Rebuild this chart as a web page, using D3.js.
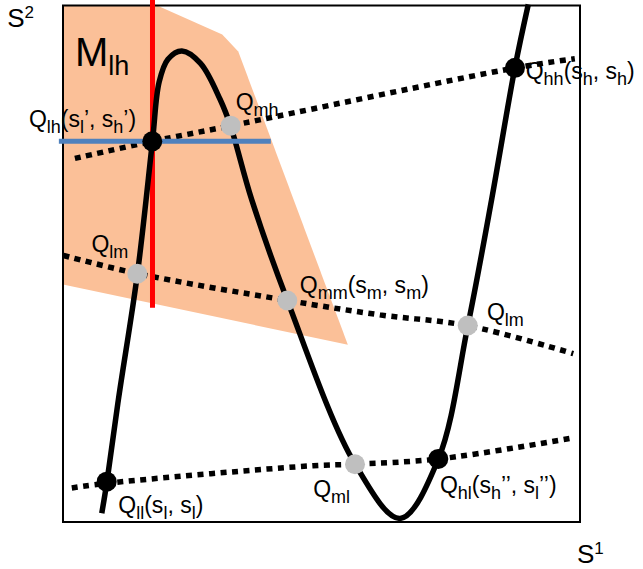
<!DOCTYPE html>
<html>
<head>
<meta charset="utf-8">
<script src="https://cdn.jsdelivr.net/npm/d3@7"></script>
<style>
  html, body { margin: 0; padding: 0; background: #fff; }
  svg { display: block; }
  text { font-family: "Liberation Sans", Arial, sans-serif; fill: #000; }
</style>
</head>
<body>
<svg id="chart" width="643" height="569"></svg>
<script>
// ---- data (in S1 / S2 units, 0..100) ----
const regionMlh = [[0,100],[18.2,100],[30.8,94.4],[33.9,91.1],[55.1,34.3],[0,46.0]];

const curveS = [
  [7.5,1.7],[8.5,7.8],[10.7,23.6],[14.4,48.1],[17.3,73.7],[18.6,85.2],[20.3,89.6],
  [23.0,91.2],[26.6,88.8],[30.4,81.8],[32.4,76.7],[36.5,62.4],[43.4,42.9],
  [56.5,11.2],[65.2,0.7],[72.6,12.2],[78.3,38.0],[82.9,62.4],[87.4,87.9],[90.0,100.2]
];

const lineHigh = [[2.3,70.4],[17.3,73.7],[32.4,76.7],[87.4,87.9],[99.0,89.7]];
const lineMid  = [[0.1,51.6],[14.4,48.1],[43.4,42.9],[61.3,40.1],[78.3,38.0],[98.7,32.6]];
const lineLow  = [[1.7,6.6],[8.5,7.5],[48.4,10.9],[56.5,11.2],[72.6,12.2],[98.8,16.3]];

const pointNames = ["Qll","Qlm","Qlh","Qmh","Qmm","Qml","Qhl","Qlm2","Qhh"];
const pointX = [8.45,14.37,17.27,32.44,43.38,56.48,72.59,78.28,87.43];
const pointY = [7.81,48.06,73.70,76.74,42.89,11.18,12.21,38.04,87.93];
const pointKind = ["eq","mix","eq","mix","mix","mix","eq","mix","eq"];

const redLine  = { x: 17.31, y0: 101.2, y1: 41.5 };
const blueLine = { y: 73.70, x0: -0.8, x1: 40.2 };

// labels: parts [text, isSubscript]
const labels = [
  { x: -6.6, y: 76.5, parts: [["Q",0],["lh",1],["(s",0],["l",1],["’, s",0],["h",1],["’)",0]] },
  { x: 33.4, y: 79.8, parts: [["Q",0],["mh",1]] },
  { x: 89.5, y: 85.7, parts: [["Q",0],["hh",1],["(s",0],["h",1],[", s",0],["h",1],[")",0]] },
  { x: 5.5,  y: 52.3, parts: [["Q",0],["lm",1]] },
  { x: 45.8, y: 44.4, parts: [["Q",0],["mm",1],["(s",0],["m",1],[", s",0],["m",1],[")",0]] },
  { x: 82.0, y: 39.2, parts: [["Q",0],["lm",1]] },
  { x: 48.4, y: 4.8,  parts: [["Q",0],["ml",1]] },
  { x: 72.9, y: 5.6,  parts: [["Q",0],["hl",1],["(s",0],["h",1],["’’, s",0],["l",1],["’’)",0]] },
  { x: 10.7, y: 1.7,  parts: [["Q",0],["ll",1],["(s",0],["l",1],[", s",0],["l",1],[")",0]] }
];
const axisLabels = [
  { x: -10.8, y: 95.9, base: "S", sup: "2" },
  { x: 99.4,  y: -8.0, base: "S", sup: "1" }
];
const regionLabel = { x: 2.3, y: 88.2, base: "M", sub: "lh" };

// ---- drawing ----
const svg = d3.select("#chart");
const xs = d3.scaleLinear().domain([0,100]).range([63,580]);
const ys = d3.scaleLinear().domain([0,100]).range([522,5.5]);

const poly = d3.line().x(d => xs(d[0])).y(d => ys(d[1]));
const smooth = d3.line().x(d => xs(d[0])).y(d => ys(d[1])).curve(d3.curveCatmullRom.alpha(0.5));

svg.append("path").attr("d", poly(regionMlh) + "Z").attr("fill", "#FBC098").attr("stroke", "none");

svg.append("rect")
  .attr("x", xs(0)).attr("y", ys(100))
  .attr("width", xs(100) - xs(0)).attr("height", ys(0) - ys(100))
  .attr("fill", "none").attr("stroke", "#000").attr("stroke-width", 2);

[lineHigh, lineMid, lineLow].forEach(l => {
  svg.append("path").attr("d", smooth(l))
    .attr("fill", "none").attr("stroke", "#000").attr("stroke-width", 5.5)
    .attr("stroke-dasharray", "6,5.5").attr("stroke-linecap", "butt");
});

svg.append("line")
  .attr("x1", xs(redLine.x)).attr("x2", xs(redLine.x))
  .attr("y1", ys(redLine.y0)).attr("y2", ys(redLine.y1))
  .attr("stroke", "#FF0000").attr("stroke-width", 5);

svg.append("path").attr("d", smooth(curveS))
  .attr("fill", "none").attr("stroke", "#000").attr("stroke-width", 5.5)
  .attr("stroke-linejoin", "round");

svg.append("line")
  .attr("x1", xs(blueLine.x0)).attr("x2", xs(blueLine.x1))
  .attr("y1", ys(blueLine.y)).attr("y2", ys(blueLine.y))
  .attr("stroke", "#4F81BD").attr("stroke-width", 5);

svg.selectAll("circle.pt").data(pointNames).enter().append("circle")
  .attr("class", "pt")
  .attr("cx", (d,i) => xs(pointX[i]))
  .attr("cy", (d,i) => ys(pointY[i]))
  .attr("r", 10)
  .attr("fill", (d,i) => pointKind[i] === "eq" ? "#000" : "#BFBFBF");

labels.forEach(lb => {
  const t = svg.append("text").attr("x", xs(lb.x)).attr("y", ys(lb.y)).attr("font-size", 23);
  let down = false;
  lb.parts.forEach(([s, sub]) => {
    const ts = t.append("tspan").text(s);
    if (sub) { ts.attr("font-size", 18).attr("dy", down ? 0 : 6); down = true; }
    else { ts.attr("dy", down ? -6 : 0); down = false; }
  });
});

axisLabels.forEach(a => {
  const t = svg.append("text").attr("x", xs(a.x)).attr("y", ys(a.y)).attr("font-size", 26);
  t.append("tspan").text(a.base);
  t.append("tspan").text(a.sup).attr("font-size", 17).attr("dy", -9);
});

{
  const t = svg.append("text").attr("x", xs(regionLabel.x)).attr("y", ys(regionLabel.y)).attr("font-size", 40);
  t.append("tspan").text(regionLabel.base);
  t.append("tspan").text(regionLabel.sub).attr("font-size", 27).attr("dy", 9);
}
</script>
</body>
</html>
